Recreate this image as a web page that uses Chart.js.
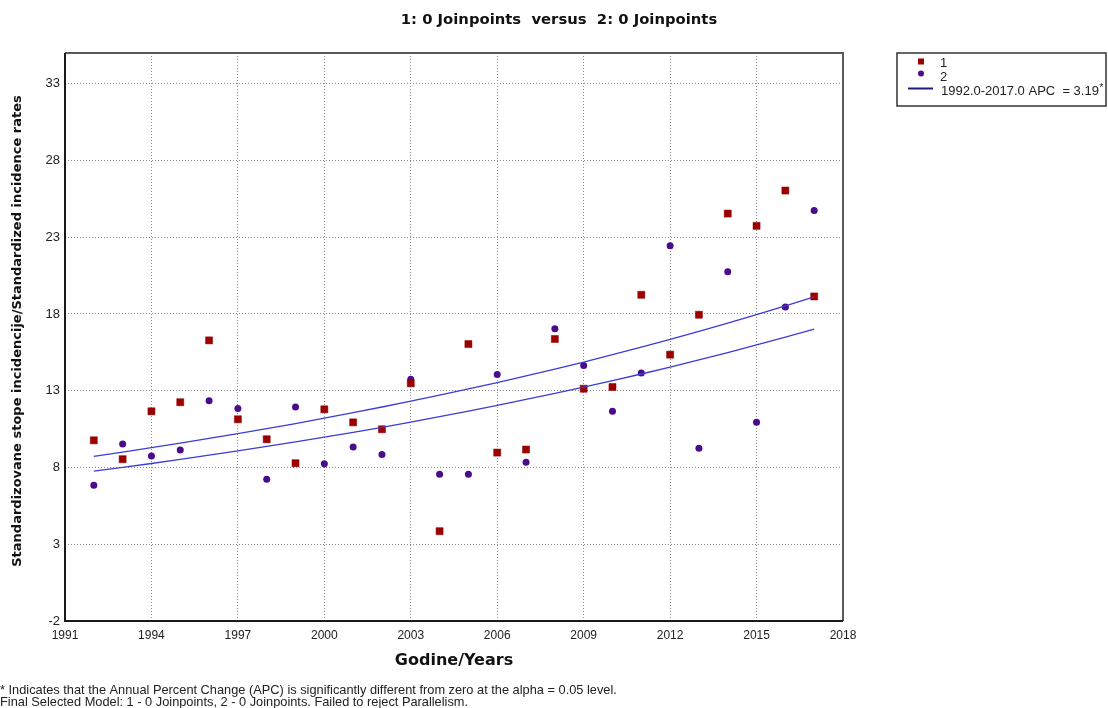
<!DOCTYPE html>
<html>
<head>
<meta charset="utf-8">
<script src="https://cdn.jsdelivr.net/npm/chart.js@4/dist/chart.umd.min.js"></script>
<style>
  html, body { margin: 0; padding: 0; background: #fff; }
  canvas { display: block; }
</style>
</head>
<body>
<canvas id="chart" width="1108" height="708"></canvas>
<script>
// Observed standardized incidence rates per year, by group
const years = [1992, 1993, 1994, 1995, 1996, 1997, 1998, 1999, 2000, 2001, 2002, 2003, 2004,
               2005, 2006, 2007, 2008, 2009, 2010, 2011, 2012, 2013, 2014, 2015, 2016, 2017];
const rates1 = [9.77, 8.54, 11.66, 12.25, 16.28, 11.14, 9.84, 8.28, 11.79, 10.94, 10.49, 13.48, 3.85,
                16.04, 8.97, 9.17, 16.37, 13.13, 13.24, 19.25, 15.35, 17.95, 24.54, 23.74, 26.04, 19.14];
const rates2 = [6.84, 9.53, 8.75, 9.14, 12.35, 11.85, 7.24, 11.94, 8.25, 9.34, 8.84, 13.74, 7.56,
                7.56, 14.05, 8.34, 17.04, 14.65, 11.66, 14.15, 22.44, 9.25, 20.75, 10.94, 18.45, 24.74];

// Modelled (parallel, APC = 3.19%) trend values per year
const fitUpper = [8.72, 9.00, 9.29, 9.58, 9.89, 10.20, 10.53, 10.86, 11.21, 11.57, 11.94, 12.32, 12.71,
                  13.12, 13.53, 13.97, 14.41, 14.87, 15.35, 15.84, 16.34, 16.86, 17.40, 17.95, 18.53, 19.12];
const fitLower = [7.76, 8.01, 8.26, 8.53, 8.80, 9.08, 9.37, 9.67, 9.98, 10.29, 10.62, 10.96, 11.31,
                  11.67, 12.04, 12.43, 12.83, 13.23, 13.66, 14.09, 14.54, 15.01, 15.48, 15.98, 16.49, 17.01];

// Axis ticks
const xTicks = [1991, 1994, 1997, 2000, 2003, 2006, 2009, 2012, 2015, 2018];
const yTicks = [-2, 3, 8, 13, 18, 23, 28, 33];

// Texts
const titleText = '1: 0 Joinpoints  versus  2: 0 Joinpoints';
const xTitle = 'Godine/Years';
const yTitle = 'Standardizovane stope incidencije/Standardized incidence rates';
const legendLabels = ['1', '2', '1992.0-2017.0 APC  = 3.19'];
const footnotes = [
  '* Indicates that the Annual Percent Change (APC) is significantly different from zero at the alpha = 0.05 level.',
  'Final Selected Model: 1 - 0 Joinpoints, 2 - 0 Joinpoints. Failed to reject Parallelism.'
];

const RED = '#9c0000';
const PURPLE = '#4b0c8c';
const FIT = '#3b3bd8';
const LEGEND_LINE = '#1c1c7a';
const SANS = '"Liberation Sans", Arial, sans-serif';
const BOLD = '"DejaVu Sans", Verdana, sans-serif';

const toPoints = (vals) => years.map((x, i) => ({ x, y: vals[i] }));

// Frame, titles, legend box and footnotes
const decorations = {
  id: 'decorations',
  afterDatasetsDraw(chart) {
    const { ctx, chartArea: a } = chart;
    ctx.save();
    ctx.lineWidth = 2;
    ctx.strokeStyle = '#5a5a5a';
    ctx.beginPath();
    ctx.moveTo(a.left, a.top);
    ctx.lineTo(a.right, a.top);
    ctx.lineTo(a.right, a.bottom);
    ctx.stroke();
    ctx.strokeStyle = '#1a1a1a';
    ctx.beginPath();
    ctx.moveTo(a.left, a.top);
    ctx.lineTo(a.left, a.bottom);
    ctx.lineTo(a.right, a.bottom);
    ctx.stroke();
    ctx.restore();
  },
  afterDraw(chart) {
    const { ctx, chartArea: a } = chart;
    ctx.save();
    ctx.textBaseline = 'middle';

    // chart title
    ctx.fillStyle = '#111';
    ctx.textAlign = 'center';
    ctx.font = 'bold 14.8px ' + BOLD;
    ctx.fillText(titleText, 559, 20);

    // axis titles
    ctx.font = 'bold 16px ' + BOLD;
    ctx.fillText(xTitle, (a.left + a.right) / 2, 661);
    ctx.save();
    ctx.translate(18, 331);
    ctx.rotate(-Math.PI / 2);
    ctx.font = 'bold 13px ' + BOLD;
    ctx.fillText(yTitle, 0, 0);
    ctx.restore();

    // legend box
    ctx.textAlign = 'left';
    ctx.lineWidth = 1.5;
    ctx.strokeStyle = '#333';
    ctx.strokeRect(897, 53, 209, 53);

    const mx = 921;
    ctx.fillStyle = RED;
    ctx.fillRect(mx - 3, 58.5, 6, 6);
    ctx.fillStyle = PURPLE;
    ctx.beginPath();
    ctx.arc(mx, 73.5, 3, 0, Math.PI * 2);
    ctx.fill();
    ctx.strokeStyle = LEGEND_LINE;
    ctx.lineWidth = 2;
    ctx.beginPath();
    ctx.moveTo(908, 88.5);
    ctx.lineTo(933, 88.5);
    ctx.stroke();

    ctx.fillStyle = '#222';
    ctx.font = '13px ' + SANS;
    ctx.fillText(legendLabels[0], 940, 63);
    ctx.fillText(legendLabels[1], 940, 77);
    ctx.fillText(legendLabels[2], 941, 91);
    const w = ctx.measureText(legendLabels[2]).width;
    ctx.font = '10px ' + SANS;
    ctx.fillText('*', 941 + w + 0.5, 88);

    // footnotes
    ctx.font = '12.8px ' + SANS;
    ctx.fillStyle = '#222';
    ctx.fillText(footnotes[0], 0, 690);
    ctx.fillText(footnotes[1], 0, 702);
    ctx.restore();
  }
};

new Chart(document.getElementById('chart'), {
  type: 'scatter',
  data: {
    datasets: [
      {
        type: 'line', label: 'fit upper', data: toPoints(fitUpper),
        borderColor: FIT, borderWidth: 1.3, pointRadius: 0, fill: false, tension: 0
      },
      {
        type: 'line', label: 'fit lower', data: toPoints(fitLower),
        borderColor: FIT, borderWidth: 1.3, pointRadius: 0, fill: false, tension: 0
      },
      {
        label: '1', data: toPoints(rates1), pointStyle: 'rect', pointRadius: 5,
        backgroundColor: RED, borderColor: '#8a0000', borderWidth: 0.5
      },
      {
        label: '2', data: toPoints(rates2), pointStyle: 'circle', pointRadius: 3.5,
        backgroundColor: PURPLE, borderColor: PURPLE, borderWidth: 0
      }
    ]
  },
  options: {
    responsive: false,
    animation: false,
    devicePixelRatio: 1,
    layout: { padding: { left: 0, right: 265, top: 53, bottom: 0 } },
    plugins: {
      legend: { display: false },
      tooltip: { enabled: false },
      title: { display: false }
    },
    scales: {
      x: {
        type: 'linear',
        min: 1991,
        max: 2018,
        afterBuildTicks: (s) => { s.ticks = xTicks.map(v => ({ value: v })); },
        afterFit: (s) => { s.height = 87; },
        grid: { color: '#8a8a8a', lineWidth: 1, drawTicks: false },
        border: { display: false, dash: [1, 2] },
        ticks: {
          padding: 7, color: '#222', maxRotation: 0,
          font: { family: SANS, size: 12 },
          callback: (v) => String(v)
        }
      },
      y: {
        type: 'linear',
        min: -2,
        max: 35,
        afterBuildTicks: (s) => { s.ticks = yTicks.map(v => ({ value: v })); },
        afterFit: (s) => { s.width = 65; },
        grid: { color: '#8a8a8a', lineWidth: 1, drawTicks: false },
        border: { display: false, dash: [1, 2] },
        ticks: {
          padding: 5, color: '#222',
          font: { family: SANS, size: 13 },
          callback: (v) => String(v)
        }
      }
    }
  },
  plugins: [decorations]
});
</script>
</body>
</html>
